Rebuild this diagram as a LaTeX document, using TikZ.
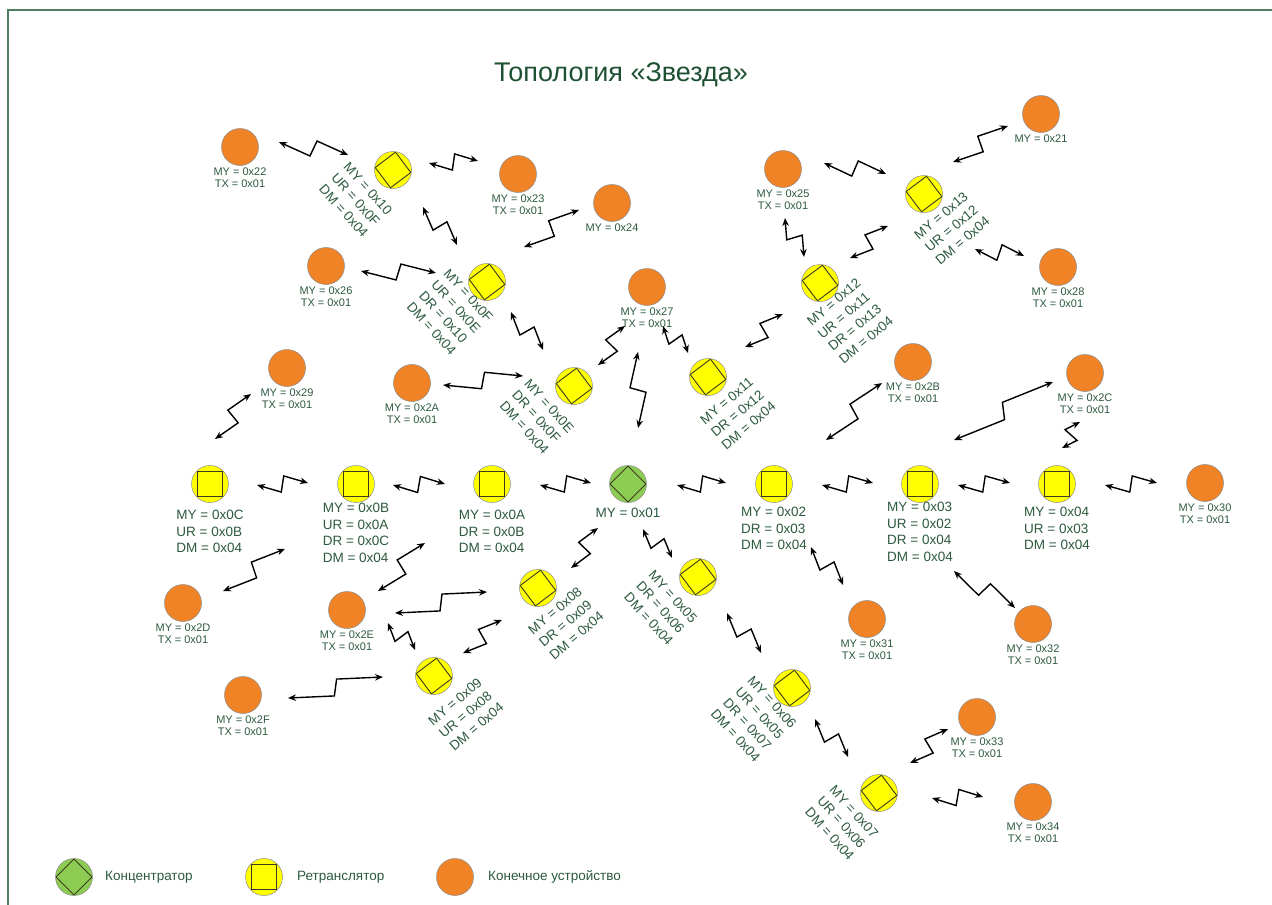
\documentclass[tikz,border=0pt]{standalone}
\usepackage{fontspec}
\setmainfont{Liberation Sans}
\usetikzlibrary{calc,arrows.meta}

\definecolor{txt}{RGB}{45,90,62}
\definecolor{ttl}{RGB}{30,80,50}
\definecolor{orng}{RGB}{240,131,38}
\definecolor{ylw}{RGB}{255,255,0}
\definecolor{grn}{RGB}{141,204,82}
\definecolor{frm}{RGB}{80,125,95}
\definecolor{inner}{RGB}{60,60,30}

\tikzset{
  dev/.style={circle, minimum size=37pt, inner sep=0pt, draw=black!45, line width=0.5pt},
  enddev/.style={dev, fill=orng},
  rsq/.style={dev, fill=ylw, path picture={
      \draw[line width=0.9pt, draw=inner, shift={(path picture bounding box.center)}]
        (45:18pt) -- (135:18pt) -- (225:18pt) -- (315:18pt) -- cycle;}},
  rdia/.style={dev, fill=ylw, path picture={
      \draw[line width=0.9pt, draw=inner, shift={(path picture bounding box.center)}]
        (82:18pt) -- (172:18pt) -- (262:18pt) -- (352:18pt) -- cycle;}},
  hub/.style={dev, fill=grn, path picture={
      \draw[line width=0.9pt, draw=inner, shift={(path picture bounding box.center)}]
        (90:18pt) -- (180:18pt) -- (270:18pt) -- (0:18pt) -- cycle;}},
  sl/.style={font=\fontsize{11}{12}\selectfont, text=txt, align=center, inner sep=0pt, anchor=north},
  bl/.style={font=\fontsize{13.5}{16.5}\selectfont, text=txt, align=left, inner sep=0pt},
  leg/.style={font=\fontsize{13.5}{15}\selectfont, text=txt, inner sep=0pt, anchor=west},
  zz/.style={line width=1.4pt, line join=miter,
    {Stealth[length=8pt,width=6.5pt]}-{Stealth[length=8pt,width=6.5pt]}},
}

% radio link: double arrow with a lightning zigzag in the middle,
% ends given as offsets from the two device centres
\newcommand\zl[4]{%
  \path ($(#1)+(#2)$) coordinate (zA) ($(#3)+(#4)$) coordinate (zB);
  \draw[zz] (zA) -- ($(zA)!0.47!(zB)!8pt!-90:(zB)$)
               -- ($(zA)!0.53!(zB)!8pt!90:(zB)$) -- (zB);
}

\begin{document}
\begin{tikzpicture}[x=1pt,y=-1pt]
\useasboundingbox (0,0) rectangle (1272,905);
\fill[white] (0,0) rectangle (1272,905);

% frame
\draw[frm, line width=1.5pt] (8,905) -- (8,10) -- (1272,10);

% title
\node[font=\fontsize{27}{31}\selectfont, text=ttl, inner sep=0pt] (title) at (621,75) {Топология «Звезда»};

% hub
\node[hub] (n01) at (628,484) {};
\node[bl, anchor=north, align=center] (l01) at ($(n01)+(0,24)$) {MY = 0x01};

% repeaters in the main row
\node[rsq] (n0C) at (210,484) {};
\node[rsq] (n0B) at (356,484) {};
\node[rsq] (n0A) at (492,484) {};
\node[rsq] (n02) at (774,484) {};
\node[rsq] (n03) at (920,484) {};
\node[rsq] (n04) at (1057,484) {};
\node[bl, anchor=north] (l0C) at ($(n0C)+(0,26)$) {MY = 0x0C\\UR = 0x0B\\DM = 0x04};
\node[bl, anchor=north] (l0B) at ($(n0B)+(0,19)$) {MY = 0x0B\\UR = 0x0A\\DR = 0x0C\\DM = 0x04};
\node[bl, anchor=north] (l0A) at ($(n0A)+(0,26)$) {MY = 0x0A\\DR = 0x0B\\DM = 0x04};
\node[bl, anchor=north] (l02) at ($(n02)+(0,23)$) {MY = 0x02\\DR = 0x03\\DM = 0x04};
\node[bl, anchor=north] (l03) at ($(n03)+(0,18)$) {MY = 0x03\\UR = 0x02\\DR = 0x04\\DM = 0x04};
\node[bl, anchor=north] (l04) at ($(n04)+(0,23)$) {MY = 0x04\\UR = 0x03\\DM = 0x04};

% repeaters with tilted labels
\node[rdia] (n10) at (393,170) {};
\node[rdia] (n0F) at (487,282) {};
\node[rdia] (n0E) at (574,386) {};
\node[rdia] (n11) at (708,377) {};
\node[rdia] (n12) at (820,283) {};
\node[rdia] (n13) at (924,194) {};
\node[rdia] (n08) at (538,588) {};
\node[rdia] (n09) at (434,676) {};
\node[rdia] (n05) at (698,577) {};
\node[rdia] (n06) at (792,688) {};
\node[rdia] (n07) at (879,793) {};
\node[bl, rotate=-48] (l10) at ($(n10)+(-37,30)$) {MY = 0x10\\UR = 0x0F\\DM = 0x04};
\node[bl, rotate=-48] (l0F) at ($(n0F)+(-37,30)$) {MY = 0x0F\\UR = 0x0E\\DR = 0x10\\DM = 0x04};
\node[bl, rotate=-48] (l0E) at ($(n0E)+(-37,31)$) {MY = 0x0E\\DR = 0x0F\\DM = 0x04};
\node[bl, rotate=-48] (l05) at ($(n05)+(-37,31)$) {MY = 0x05\\DR = 0x06\\DM = 0x04};
\node[bl, rotate=-48] (l06) at ($(n06)+(-38,31)$) {MY = 0x06\\UR = 0x05\\DR = 0x07\\DM = 0x04};
\node[bl, rotate=-48] (l07) at ($(n07)+(-37,30)$) {MY = 0x07\\UR = 0x06\\DM = 0x04};
\node[bl, rotate=40] (l13) at ($(n13)+(28,34)$) {MY = 0x13\\UR = 0x12\\DM = 0x04};
\node[bl, rotate=40] (l12) at ($(n12)+(30,38)$) {MY = 0x12\\UR = 0x11\\DR = 0x13\\DM = 0x04};
\node[bl, rotate=40] (l11) at ($(n11)+(30,36)$) {MY = 0x11\\DR = 0x12\\DM = 0x04};
\node[bl, rotate=40] (l08) at ($(n08)+(28,35)$) {MY = 0x08\\DR = 0x09\\DM = 0x04};
\node[bl, rotate=40] (l09) at ($(n09)+(32,38)$) {MY = 0x09\\UR = 0x08\\DM = 0x04};

% end devices
\node[enddev] (n22) at (240,147) {};
\node[enddev] (n23) at (518,174) {};
\node[enddev] (n24) at (612,203) {};
\node[enddev] (n21) at (1041,114) {};
\node[enddev] (n25) at (783,169) {};
\node[enddev] (n26) at (326,266) {};
\node[enddev] (n28) at (1058,267) {};
\node[enddev] (n27) at (647,287) {};
\node[enddev] (n29) at (287,368) {};
\node[enddev] (n2A) at (412,383) {};
\node[enddev] (n2B) at (913,362) {};
\node[enddev] (n2C) at (1085,373) {};
\node[enddev] (n30) at (1205,483) {};
\node[enddev] (n2D) at (183,603) {};
\node[enddev] (n2E) at (347,610) {};
\node[enddev] (n31) at (867,619) {};
\node[enddev] (n32) at (1033,624) {};
\node[enddev] (n2F) at (243,695) {};
\node[enddev] (n33) at (977,717) {};
\node[enddev] (n34) at (1033,802) {};
\foreach \n in {22,23,25,26,28,27,29,2A,2B,2C,30,2D,2E,31,32,2F,33,34}
  \node[sl] (l\n) at ([yshift=-1.5pt]n\n.south) {MY = 0x\n\\TX = 0x01};
\node[sl] (l24) at ([yshift=-1.5pt]n24.south) {MY = 0x24};
\node[sl] (l21) at ([yshift=-1.5pt]n21.south) {MY = 0x21};

% radio links
\zl{n22}{39,-5}{n10}{-45,-15}
\zl{n10}{36,-7}{n23}{-40,-13}
\zl{n10}{30,37}{n0F}{-30,-37}
\zl{n0F}{37,-35}{n24}{-33,7}
\zl{n26}{35,5}{n0F}{-51,-9}
\zl{n0F}{24,30}{n0E}{-31,-36}
\zl{n2A}{31,2}{n0E}{-51,-10}
\zl{n0E}{24,-21}{n27}{-22,39}
\zl{n27}{-9,65}{n01}{10,-56}
\zl{n27}{16,39}{n11}{-20,-24}
\zl{n11}{37,-30}{n12}{-37,31}
\zl{n25}{2,49}{n12}{-16,-26}
\zl{n12}{30,-25}{n13}{-36,32}
\zl{n25}{41,-6}{n13}{-38,-20}
\zl{n13}{29,-32}{n21}{-33,12}
\zl{n13}{51,55}{n28}{-34,-11}
\zl{n0A}{48,1}{n01}{-37,-1}
\zl{n0B}{37,1}{n0A}{-47,0}
\zl{n0C}{47,1}{n0B}{-48,-1}
\zl{n0C}{5,-45}{n29}{-36,26}
\zl{n2D}{40,-12}{n0B}{-71,65}
\zl{n2E}{31,-19}{n0A}{-67,59}
\zl{n2E}{48,3}{n08}{-51,4}
\zl{n2E}{41,13}{n09}{-19,-26}
\zl{n09}{29,-23}{n08}{-36,32}
\zl{n2F}{45,3}{n09}{-51,1}
\zl{n08}{33,-20}{n01}{-30,44}
\zl{n01}{15,45}{n05}{-26,-19}
\zl{n05}{29,36}{n06}{-31,-35}
\zl{n06}{23,31}{n07}{-31,-36}
\zl{n07}{31,-30}{n33}{-29,12}
\zl{n07}{53,5}{n34}{-50,-5}
\zl{n01}{49,1}{n02}{-48,-1}
\zl{n02}{48,1}{n03}{-47,-1}
\zl{n03}{38,1}{n04}{-47,-1}
\zl{n04}{48,1}{n30}{-48,0}
\zl{n04}{5,-36}{n2C}{-5,49}
\zl{n03}{34,-44}{n2C}{-32,9}
\zl{n02}{52,-44}{n2B}{-31,21}
\zl{n02}{37,63}{n31}{-24,-34}
\zl{n03}{34,87}{n32}{-18,-16}

% legend
\node[hub] (k1) at (74,877) {};
\node[leg] (kt1) at (105,877) {Концентратор};
\node[rsq] (k2) at (264,877) {};
\node[leg] (kt2) at (297,877) {Ретранслятор};
\node[enddev] (k3) at (455,877) {};
\node[leg] (kt3) at (488,877) {Конечное устройство};
\end{tikzpicture}
\end{document}
